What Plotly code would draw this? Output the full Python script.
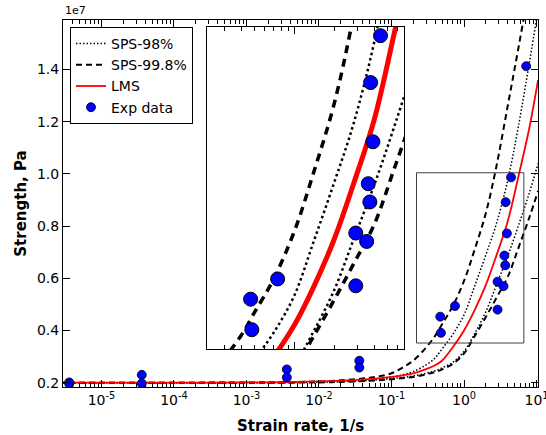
import math
import plotly.graph_objects as go

# ---------------- data (strength in units of 1e7 Pa) ----------------
rate_curve = [1e-6, 1e-5, 1e-4, 1e-3, 3e-3, 1e-2, 2e-2, 5e-2, 0.1, 0.15, 0.2, 0.3,
              0.4, 0.5, 0.7, 1.0, 1.4, 2.0, 2.8, 4.0, 5.6, 8.0, 10.5]

lms = [0.200, 0.200, 0.200, 0.201, 0.202, 0.205, 0.208, 0.214, 0.222, 0.229, 0.236, 0.252,
       0.267, 0.285, 0.336, 0.400, 0.478, 0.575, 0.688, 0.818, 0.988, 1.180, 1.360]

sps998_upper = [0.200, 0.200, 0.200, 0.201, 0.202, 0.205, 0.209, 0.219, 0.236, 0.262, 0.285, 0.335,
                0.380, 0.425, 0.494, 0.590, 0.710, 0.850, 1.030, 1.260, 1.480, 1.720, 1.900]
sps98_upper = [0.200, 0.200, 0.200, 0.200, 0.201, 0.203, 0.205, 0.211, 0.221, 0.232, 0.243, 0.268,
               0.295, 0.330, 0.385, 0.460, 0.570, 0.690, 0.810, 0.975, 1.180, 1.430, 1.630]
sps98_lower = [0.200, 0.200, 0.200, 0.200, 0.200, 0.202, 0.204, 0.209, 0.216, 0.221, 0.226, 0.236,
               0.246, 0.257, 0.278, 0.320, 0.388, 0.472, 0.575, 0.685, 0.800, 0.930, 1.040]
sps998_lower = [0.200, 0.200, 0.200, 0.200, 0.200, 0.201, 0.203, 0.207, 0.213, 0.218, 0.222, 0.232,
                0.241, 0.251, 0.272, 0.312, 0.378, 0.452, 0.525, 0.605, 0.715, 0.835, 0.935]

exp_rate = [3.6e-6, 3.6e-6, 3.6e-5, 3.6e-5, 3.6e-3, 3.6e-3, 0.036, 0.036,
            0.48, 0.47, 0.75, 2.9, 2.9, 3.5, 3.6, 3.7, 3.9, 3.75, 4.45, 7.2]
exp_strength = [0.201, 0.196, 0.230, 0.197, 0.251, 0.220, 0.284, 0.258,
                0.391, 0.453, 0.494, 0.480, 0.587, 0.570, 0.687, 0.650, 0.772, 0.892, 0.987, 1.413]

x_range_log = [-5.53, 1.02]          # log10 of strain rate
x_ticks = [1e-5, 1e-4, 1e-3, 1e-2, 1e-1, 1e0, 1e1]
x_tick_text = ["10<sup>-5</sup>", "10<sup>-4</sup>", "10<sup>-3</sup>", "10<sup>-2</sup>",
               "10<sup>-1</sup>", "10<sup>0</sup>", "10<sup>1</sup>"]
y_range = [0.1835, 1.59]
y_ticks = [0.2, 0.4, 0.6, 0.8, 1.0, 1.2, 1.4]
y_tick_text = ["0.2", "0.4", "0.6", "0.8", "1.0", "1.2", "1.4"]

zoom_rate = [0.221, 6.68]             # zoomed box (inset) limits
zoom_strength = [0.352, 1.0046]

FONT = "DejaVu Sans"
BLUE = "#0000ff"

fig = go.Figure()

curves = [
    ("SPS-98%", sps98_upper, dict(color="black", width=1.5, dash="1.5px,2px"), True),
    ("SPS-98%", sps98_lower, dict(color="black", width=1.5, dash="1.5px,2px"), False),
    ("SPS-99.8%", sps998_upper, dict(color="black", width=2, dash="6px,4px"), True),
    ("SPS-99.8%", sps998_lower, dict(color="black", width=2, dash="6px,4px"), False),
    ("LMS", lms, dict(color="red", width=1.8), True),
]
inset_lines = {
    "SPS-98%": dict(color="black", width=2.5, dash="2.5px,3px"),
    "SPS-99.8%": dict(color="black", width=3.5, dash="8px,6px"),
    "LMS": dict(color="red", width=5),
}

for name, vals, line, show in curves:
    fig.add_trace(go.Scatter(x=rate_curve, y=vals, mode="lines", name=name,
                             line=dict(shape="spline", **line), showlegend=show,
                             legendgroup=name, xaxis="x", yaxis="y"))

fig.add_trace(go.Scatter(x=exp_rate, y=exp_strength, mode="markers", name="Exp data",
                         marker=dict(color=BLUE, size=9, line=dict(color="black", width=0.8)),
                         xaxis="x", yaxis="y"))

# zoom box on main plot
fig.add_trace(go.Scatter(x=[zoom_rate[0], zoom_rate[1], zoom_rate[1], zoom_rate[0], zoom_rate[0]],
                         y=[zoom_strength[0], zoom_strength[0], zoom_strength[1], zoom_strength[1], zoom_strength[0]],
                         mode="lines", line=dict(color="#404040", width=1), showlegend=False,
                         hoverinfo="skip", xaxis="x", yaxis="y"))

# inset traces
for name, vals, line, show in curves:
    fig.add_trace(go.Scatter(x=rate_curve, y=vals, mode="lines", showlegend=False,
                             line=dict(shape="spline", **inset_lines[name]),
                             xaxis="x2", yaxis="y2"))
fig.add_trace(go.Scatter(x=exp_rate, y=exp_strength, mode="markers", showlegend=False,
                         marker=dict(color=BLUE, size=14, line=dict(color="black", width=1)),
                         xaxis="x2", yaxis="y2"))

L, R, T, B = 63, 8, 20, 48
W, H = 546, 435
pw, ph = W - L - R, H - T - B
ix0, ix1, iy0, iy1 = 207, 404, 27, 349

fig.update_layout(
    width=W, height=H,
    margin=dict(l=L, r=R, t=T, b=B, autoexpand=False),
    paper_bgcolor="white", plot_bgcolor="white",
    font=dict(family=FONT, size=14, color="black"),
    xaxis=dict(type="log", range=x_range_log, tickvals=x_ticks, ticktext=x_tick_text,
               ticks="inside", ticklen=7, tickwidth=1, tickcolor="black",
               showline=True, linecolor="black", linewidth=1, mirror="ticks",
               showgrid=False, zeroline=False, automargin=False, ticklabeloverflow="allow",
               minor=dict(ticks="inside", ticklen=4, dtick="D1", tickcolor="black", showgrid=False),
               title=dict(text="<b>Strain rate, 1/s</b>", font=dict(size=15), standoff=14),
               tickfont=dict(size=14), anchor="y", domain=[0, 1]),
    yaxis=dict(range=y_range, tickvals=y_ticks, ticktext=y_tick_text,
               ticks="inside", ticklen=7, tickwidth=1, tickcolor="black",
               showline=True, linecolor="black", linewidth=1, mirror="ticks",
               showgrid=False, zeroline=False, automargin=False,
               title=dict(text="<b>Strength, Pa</b>", font=dict(size=15), standoff=6),
               tickfont=dict(size=14), anchor="x", domain=[0, 1]),
    xaxis2=dict(type="log", range=[math.log10(zoom_rate[0]), math.log10(zoom_rate[1])],
                domain=[(ix0 - L) / pw, (ix1 - L) / pw], anchor="y2",
                showticklabels=False, ticks="inside", ticklen=7, tickcolor="black", dtick=1,
                minor=dict(ticks="inside", ticklen=4, dtick="D1", tickcolor="black", showgrid=False),
                showline=True, linecolor="black", linewidth=1, mirror="ticks",
                showgrid=False, zeroline=False, automargin=False),
    yaxis2=dict(range=zoom_strength,
                domain=[(H - B - iy1) / ph, (H - B - iy0) / ph], anchor="x2",
                showticklabels=False, ticks="",
                showline=True, linecolor="black", linewidth=1, mirror=True,
                showgrid=False, zeroline=False, automargin=False),
    legend=dict(x=(70 - L) / pw, y=(H - B - 27) / ph, xanchor="left", yanchor="top",
                bgcolor="white", bordercolor="black", borderwidth=1,
                font=dict(size=14), tracegroupgap=0, entrywidth=84),
    annotations=[dict(text="1e7", xref="paper", yref="paper", x=0, y=1, xanchor="left",
                      yanchor="bottom", showarrow=False, font=dict(size=11), yshift=1)],
    showlegend=True,
)

fig.write_html("out.html", config={"displayModeBar": False},
               post_script="document.body.style.margin='0';document.body.style.overflow='hidden';")
